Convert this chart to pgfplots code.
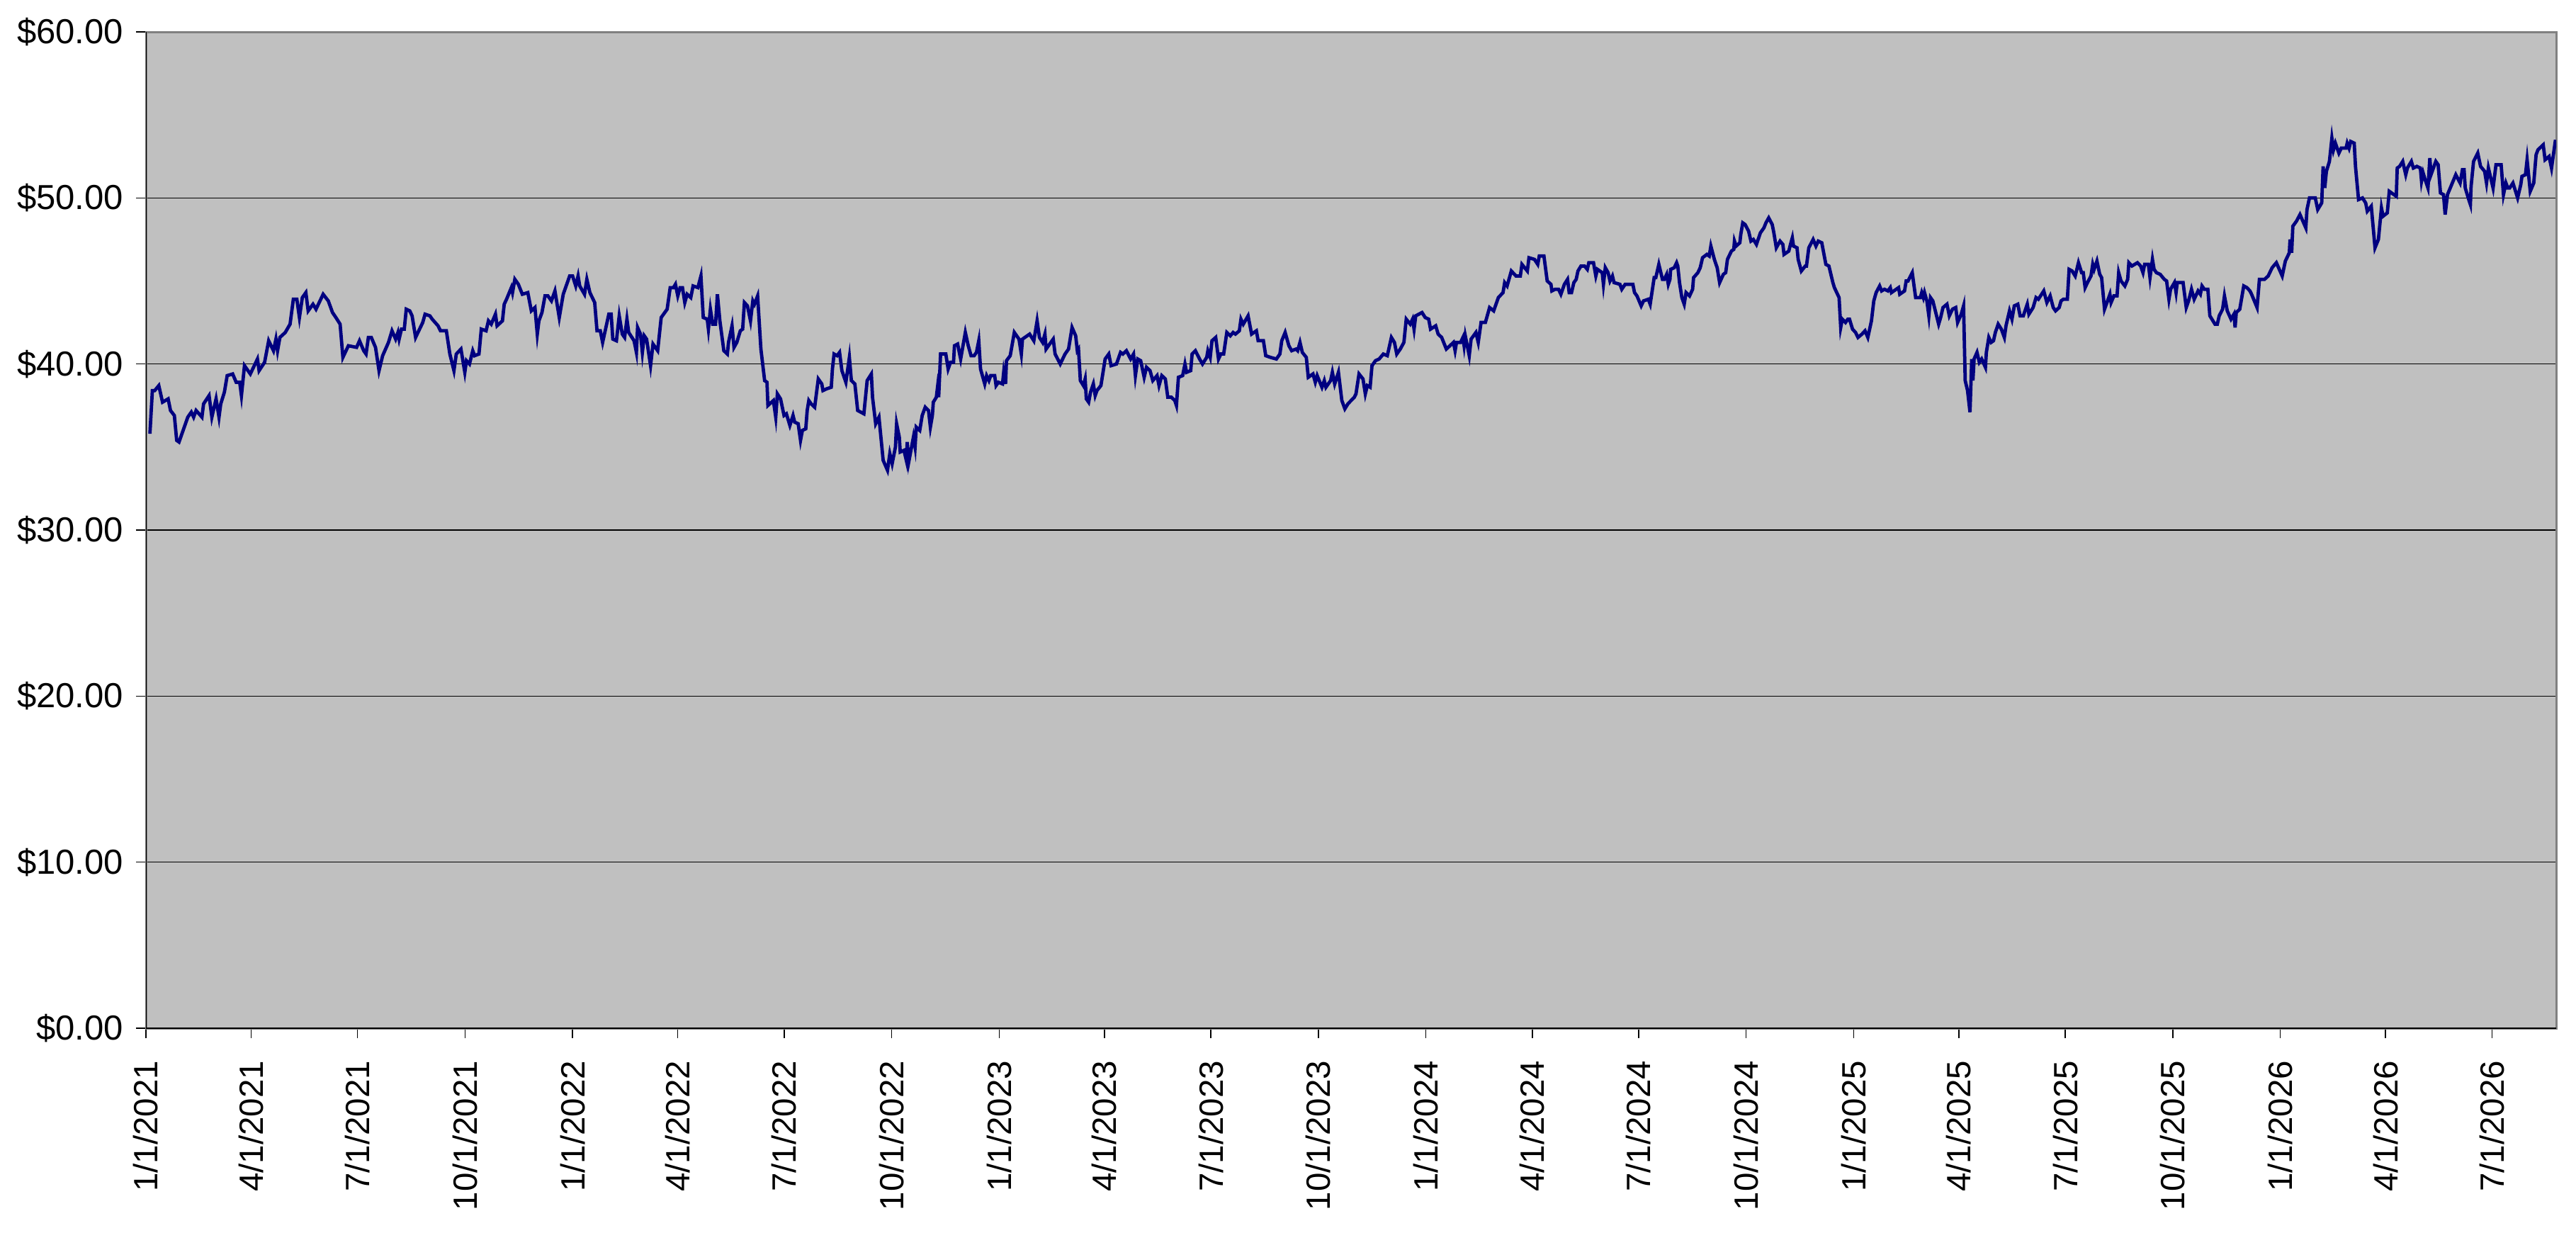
\documentclass[border=0pt]{standalone}
\usepackage{fontspec}
\setmainfont{Liberation Sans}
\usepackage{pgfplots}
\pgfplotsset{compat=1.18}
\usepackage{pgfplotstable}
\definecolor{plotbg}{HTML}{C0C0C0}
\definecolor{framegray}{HTML}{808080}
\definecolor{navyline}{HTML}{000080}
\pgfplotstableread{
day price
3.4 35.8
5.5 38.4
7.5 38.4
11 38.7
14.2 37.7
19 37.9
21 37.2
24.3 36.9
26.3 35.4
28.3 35.3
32.8 36.2
35.8 36.8
38.8 37.1
40.8 36.8
42.9 37.2
47.9 36.8
49.3 37.6
54 38.1
56.4 36.8
60 37.9
62.5 36.8
64 37.6
67.1 38.3
69.5 39.3
74.2 39.4
77.2 38.9
80.2 38.9
81.7 38.1
84.3 39.9
89.3 39.4
95.4 40.3
96.8 39.6
101.5 40.1
105 41.4
109.1 40.8
111.2 41.5
112.6 40.8
114.6 41.6
119.2 41.9
123.3 42.4
126.1 43.9
129.1 43.9
131.3 42.8
133.8 44.0
136.8 44.3
138.8 43.2
142.9 43.6
145.5 43.3
151.6 44.2
156 43.8
159.6 43.1
162.5 42.8
166.1 42.4
168.5 40.4
173.2 41.1
180.2 41.0
182.7 41.4
186.3 40.8
188.3 40.6
190.3 41.6
192.8 41.6
196.4 41.0
199.4 39.6
202.5 40.5
207.5 41.3
210.5 42.0
213.6 41.5
215.6 41.9
216.6 41.5
218.6 42.1
221 42.1
222.7 43.3
225.7 43.2
227.7 42.9
230.7 41.6
236.8 42.5
238.8 43.0
242.9 42.9
244.9 42.7
249.9 42.3
252 42.0
257 42.0
260 40.6
263.5 39.6
265.5 40.6
269.5 40.9
272.8 39.5
274.2 40.2
276.8 40.0
279.6 40.8
281.2 40.5
284.9 40.6
286.9 42.1
291 42.0
293 42.6
295.4 42.4
299 43.0
300.4 42.3
305 42.6
306.5 43.6
308.5 43.9
312.6 44.6
313.6 44.3
315.6 45.1
318.6 44.8
322 44.2
326.7 44.3
329.7 43.2
332.8 43.4
334.8 41.8
336.2 42.6
338.8 43.1
341.4 44.1
343.9 44.1
346.9 43.8
349.9 44.4
353.6 42.8
357 44.2
362.5 45.3
365 45.3
367.7 44.7
369.7 45.3
371.1 44.7
375.2 44.2
377.2 45.1
379.8 44.3
383.9 43.7
385.9 42.0
388.7 42.0
390.7 41.3
396 43.0
398 43.0
399.4 41.5
402.5 41.4
404.9 42.9
407.5 41.8
409.5 41.6
411.5 42.7
413 41.9
417.6 41.4
419.6 40.7
420.6 42.2
423.1 41.8
424.7 40.7
426.3 41.7
428.3 41.5
431.7 39.9
433.8 41.2
437.8 40.8
440.8 42.8
445.9 43.3
448.5 44.6
451.3 44.6
453 44.8
455 44.1
457 44.6
459 44.6
461 43.7
463 44.2
466.1 44.0
468.1 44.7
472.2 44.6
474.8 45.3
476.8 42.8
480.2 42.7
481.2 42.1
482.9 43.3
484.9 42.4
487.3 42.4
488.9 44.2
491 42.6
494.4 40.8
497.4 40.6
498.4 41.3
501.4 42.3
503.1 41.0
505.5 41.3
508.5 42.0
510.5 42.1
512 43.7
514.6 43.5
517.2 42.6
519.2 43.8
520.6 43.6
523.3 44.1
526.1 40.9
529.3 39.0
531.3 38.9
532.1 37.5
536.8 37.8
538.8 36.8
540.2 38.2
542.9 37.9
545.9 36.9
547.9 37.0
550.9 36.3
553.6 36.9
555 36.5
558 36.4
560 35.4
561.6 36.0
564.5 36.1
565.7 37.2
567.1 37.8
569.1 37.6
572.1 37.4
575.2 39.1
578.2 38.8
579.2 38.4
582.2 38.5
586.3 38.6
587.3 39.7
588.7 40.6
591.3 40.5
593.4 40.7
595.4 39.6
598.8 38.9
601.8 40.4
603.5 39.0
606.5 38.8
608.9 37.2
614.2 37.0
617 39.0
620.6 39.4
621.6 38.0
624.3 36.4
627.1 36.8
630.7 34.2
634.4 33.6
636.4 34.6
638.4 34.0
641.2 35.0
642.2 36.4
644.5 35.6
645.3 34.7
648.5 34.8
650.5 34.2
651.3 35.3
652.6 34.1
656.6 35.6
658 35.0
659 36.2
662 36.0
664.1 36.9
666.7 37.4
669.5 37.2
671.1 36.2
672.8 36.9
673.6 37.7
676.2 38.0
677.2 38.6
678.2 38.0
679.8 40.6
681.2 40.6
684.3 40.6
686.3 39.7
688.3 40.1
690.9 40.1
691.7 41.1
694.4 41.2
697 40.3
699 41.1
701 41.9
703.5 41.1
705.9 40.5
708.5 40.5
710.5 40.7
712.5 41.4
714 39.7
717.6 38.8
719.2 39.3
721.2 39.0
722.7 39.3
726.1 39.3
727.3 38.7
729.3 38.9
732.8 38.8
733.8 39.5
735.4 38.8
736.2 40.2
739.4 40.5
742.9 41.9
746.9 41.5
748.9 40.6
749.9 41.5
756 41.8
759.6 41.4
762.4 42.6
764.4 41.6
767.1 41.3
769.1 41.8
770.1 40.9
776.2 41.5
777.8 40.6
782.2 40.0
786.3 40.6
789.3 40.9
792.3 42.2
795.4 41.7
796.8 40.8
797.8 40.9
799.4 39.0
802 38.7
803.5 39.1
804.5 37.9
806.5 37.7
808.1 38.3
810.5 38.8
812.1 38.1
813.6 38.4
817 38.7
820.6 40.3
823.7 40.6
825.7 39.9
830.3 40.0
833.8 40.7
835.8 40.6
838.8 40.8
842.4 40.3
844.9 40.6
846.5 39.3
848.5 40.3
851 40.2
854 39.2
856 39.8
859 39.6
861.4 39.0
865 39.3
866.7 38.7
869.1 39.3
872.1 39.1
874.2 38.0
877.2 38.0
880.2 37.8
881.6 37.5
883.3 39.2
886.9 39.3
888.9 40.0
890.3 39.5
893.8 39.6
895 40.6
897.8 40.8
901.4 40.3
903.9 40.0
907.5 40.4
908.5 40.8
910.5 40.4
912 41.4
915.2 41.6
917.6 40.3
919.6 40.6
922 40.6
924.7 41.9
927.7 41.7
930.1 41.9
932.1 41.8
935.4 42.0
936.8 42.7
938.8 42.4
942.9 42.9
945.9 41.8
950 42.0
951.5 41.4
956 41.4
958 40.5
962 40.4
967.1 40.3
970.1 40.6
971.7 41.4
974.6 41.9
977.8 41.1
980.2 40.8
983.9 40.9
985.3 40.8
987.3 41.3
989.3 40.7
992.7 40.4
994.4 39.2
998.4 39.4
1000.4 38.9
1002 39.3
1006.1 38.6
1008.1 39.0
1009.5 38.6
1013.5 39.0
1015 39.5
1017 38.8
1020.2 39.5
1023.1 37.8
1025.7 37.3
1028.3 37.6
1033.8 38.0
1035.2 38.2
1037.8 39.4
1041.2 39.1
1043.2 38.2
1044.9 38.7
1047.3 38.6
1048.9 39.9
1051.9 40.2
1055 40.3
1058.6 40.6
1062 40.5
1065.5 41.6
1068.1 41.3
1070.1 40.6
1073.1 40.9
1076.2 41.3
1078.2 42.7
1081.6 42.4
1083.6 42.7
1084.9 42.1
1086.3 42.9
1091.7 43.1
1094.4 42.8
1097.4 42.7
1099 42.1
1103.4 42.3
1105.5 41.8
1108.5 41.6
1112.5 40.9
1115.6 41.1
1118.6 41.3
1120 40.8
1121.2 41.3
1124.7 41.3
1126.7 41.6
1127.7 41.1
1128.7 41.7
1132.1 40.5
1133.7 41.5
1137.8 41.9
1139.8 41.3
1142.2 42.5
1145.9 42.5
1149.5 43.4
1153 43.2
1157 44.0
1161 44.3
1162.4 44.9
1164.5 44.7
1168.1 45.6
1172.1 45.3
1175.8 45.3
1177.2 46.0
1181.8 45.6
1183.2 46.4
1187.9 46.3
1190.7 46.0
1192 46.5
1196 46.5
1198.8 45.0
1202 44.8
1202.8 44.4
1205.5 44.5
1208.5 44.5
1210.5 44.2
1213.5 44.8
1216.2 45.1
1217.6 44.3
1219.6 44.3
1221.6 44.9
1223.6 45.1
1225.1 45.6
1227.7 45.9
1230.7 45.9
1233.1 45.7
1234.4 46.1
1238.4 46.1
1240.4 45.3
1241.8 45.7
1245.9 45.5
1246.9 44.8
1248.5 45.8
1250.9 45.5
1252.5 45.0
1254.6 45.3
1256 44.9
1261 44.8
1262.6 44.5
1265.5 44.8
1272.1 44.8
1273.5 44.3
1275.6 44.1
1279.2 43.5
1281.2 43.8
1285.3 43.9
1286.9 43.6
1290.3 45.2
1291.7 45.2
1294.3 46.0
1297.4 45.1
1299 45.1
1301 45.4
1302.4 44.8
1303.8 45.1
1304.4 45.7
1307.5 45.8
1309.5 46.1
1310.5 45.9
1312 44.9
1314 44.0
1316 43.6
1317.6 44.3
1320.6 44.1
1323.2 44.5
1324 45.2
1327.7 45.5
1329.7 45.8
1331.7 46.4
1335.4 46.6
1337.4 46.5
1338.8 47.1
1341.8 46.3
1344.2 45.8
1346.3 44.9
1349.5 45.4
1351.5 45.5
1353 46.3
1356.4 46.8
1358.4 46.9
1359 47.4
1360.4 47.1
1363.6 47.3
1364.4 47.8
1366.1 48.5
1368.1 48.4
1371.1 48.0
1373.1 47.4
1375.2 47.5
1377.8 47.2
1381.2 47.9
1384.2 48.2
1385.9 48.5
1388.3 48.8
1391.3 48.4
1392.7 47.9
1394.8 47.0
1398 47.4
1400.4 47.2
1401.4 46.6
1405.5 46.8
1406.9 47.2
1408.5 47.6
1409.5 47.1
1412.5 47.0
1413.5 46.3
1416.2 45.6
1419.6 45.9
1420.6 45.9
1422.6 47.0
1426.3 47.5
1428.7 47.1
1430.7 47.4
1433.7 47.3
1437.2 46.0
1439.8 45.9
1443.2 44.9
1444.5 44.6
1448.5 44.0
1449.9 42.2
1451.3 42.7
1454 42.5
1456 42.7
1457.4 42.7
1460 42.1
1462.6 41.9
1464.7 41.6
1468.1 41.8
1470.7 42.0
1473.1 41.6
1476.2 42.6
1478.2 43.8
1480.2 44.3
1483.2 44.7
1484.9 44.4
1487.3 44.5
1490.3 44.4
1492.3 44.6
1493.3 44.3
1499.4 44.6
1500.4 44.2
1504.5 44.4
1505.9 45.0
1507.5 45.0
1511.1 45.5
1514 44.0
1518 44.0
1519.2 44.3
1520.6 44.0
1521.6 44.3
1523.6 43.8
1525.3 42.9
1526.7 44.0
1528.7 43.8
1533.7 42.4
1535.4 42.8
1537.4 43.4
1540.8 43.6
1542.8 42.9
1545.5 43.3
1548.3 43.4
1549.9 42.5
1553 43.0
1555 43.5
1556.4 39.0
1558.4 38.4
1560.5 37.1
1562 40.3
1563 39.0
1564 40.3
1566.5 40.7
1568.5 40.1
1570.5 40.3
1573.7 39.8
1574.5 40.7
1576.6 41.6
1578.6 41.3
1580.6 41.4
1582.2 41.9
1584.6 42.4
1587.3 42.1
1589.9 41.6
1591.3 42.3
1594.3 43.2
1596.4 42.7
1598.4 43.5
1601.4 43.6
1603.4 42.9
1606.1 42.9
1609.5 43.6
1610.9 43.0
1614.5 43.4
1617 44.0
1619 43.9
1623.6 44.4
1626.3 43.7
1629.1 44.1
1631.7 43.4
1633.7 43.2
1636.8 43.4
1638.4 43.8
1640.4 43.9
1643.8 43.9
1645.3 45.7
1647.9 45.6
1650.5 45.3
1653.3 46.1
1656 45.5
1657.4 45.5
1659 44.6
1661 44.9
1664 45.3
1665.5 46.0
1666.7 45.7
1669.1 46.2
1671.5 45.4
1673.1 45.2
1675.6 43.3
1678.2 43.8
1680.2 44.2
1681.2 43.7
1683.6 44.1
1686.3 44.1
1687.7 45.5
1689.7 45.0
1693 44.7
1695.4 45.1
1696.4 46.1
1699 45.9
1703.8 46.1
1706.5 45.9
1708.5 45.5
1709.9 46.0
1713.1 46.0
1714.5 45.2
1716.6 46.3
1718 45.7
1720 45.5
1723.2 45.4
1726.7 45.1
1728.7 45.0
1730.7 43.9
1732.1 44.5
1735.4 44.9
1736.8 44.3
1737.8 44.9
1742.8 44.9
1745.5 43.4
1747.5 43.8
1750 44.5
1752.3 43.9
1755.6 44.4
1757.6 44.2
1759 44.7
1761 44.5
1764 44.5
1765.7 42.9
1770.1 42.4
1772.1 42.4
1773.7 42.9
1776.6 43.3
1778.2 44.1
1780.6 43.2
1783.8 42.7
1786.3 43.0
1787.3 42.2
1788.3 43.1
1791.3 43.3
1794.7 44.7
1797.4 44.6
1800 44.4
1801.4 44.2
1806.1 43.4
1808.1 45.1
1812.5 45.1
1815.6 45.3
1819 45.8
1822.6 46.1
1827.6 45.3
1830.3 46.2
1833.7 46.7
1834.3 47.5
1835.7 46.7
1836.7 48.3
1839.8 48.6
1842.8 49.0
1847.8 48.2
1848.8 49.3
1850.9 50.0
1855.9 50.0
1858 49.3
1861.4 49.7
1862.6 51.9
1864 50.6
1865.4 51.6
1868 52.2
1870.1 53.6
1871.5 52.9
1873.1 53.3
1876.1 52.7
1878.1 53.0
1882.2 53.0
1883.2 53.3
1884.8 53.0
1886.2 53.4
1889.2 53.3
1890.3 51.9
1892.9 49.9
1896.3 50.0
1899 49.7
1900.4 49.2
1903.8 49.5
1907 47.0
1909.9 47.5
1912.5 49.4
1913.9 48.9
1917.5 49.1
1919.2 50.4
1925.2 50.1
1926 51.8
1928 51.9
1930.7 52.2
1933.3 51.4
1934.7 51.8
1938.1 52.2
1939.8 51.8
1942.8 51.9
1945.8 51.8
1946.8 51.0
1948.2 51.5
1949.9 51.1
1952.3 50.6
1953.9 52.4
1954.9 51.4
1959 52.2
1961 52.0
1963 50.3
1965.6 50.2
1967 49.0
1969 50.2
1976.1 51.4
1979.8 50.9
1981.8 51.7
1983.2 51.7
1984.2 50.6
1987.2 49.9
1988.6 49.6
1989.2 50.7
1991.3 52.2
1994.9 52.7
1997.3 51.9
2000.8 51.6
2002.4 50.9
2004 51.8
2008 50.6
2010.5 52.0
2014.9 52.0
2016.9 50.2
2019 50.9
2020.6 50.6
2022.2 50.6
2025 50.9
2029 50.0
2031.7 50.8
2032.7 51.3
2035.7 51.4
2037.1 52.3
2039.8 50.4
2042.8 50.9
2044.8 52.6
2046.4 52.9
2050.9 53.2
2052.5 52.3
2055.9 52.5
2058 51.8
2059.4 52.5
2061.4 53.5
}\pricedata
\begin{document}
\begin{tikzpicture}
\path[use as bounding box] (-41.2pt,-57.6pt) rectangle (686pt,290.2pt);
\begin{axis}[
  at={(0pt,0pt)}, anchor=south west,
  scale only axis, width=680.4pt, height=281.2pt,
  xmin=0, xmax=2062, ymin=0, ymax=60,
  axis background/.style={fill=plotbg},
  axis line style={draw=framegray, line width=0.6pt},
  xtick pos=bottom, ytick pos=left,
  xtick={0,90,181,273,365,455,546,638,730,820,911,1003,1095,1186,1277,1369,1461,1551,1642,1734,1826,1916,2007},
  xticklabels={1/1/2021,4/1/2021,7/1/2021,10/1/2021,1/1/2022,4/1/2022,7/1/2022,10/1/2022,1/1/2023,4/1/2023,7/1/2023,10/1/2023,1/1/2024,4/1/2024,7/1/2024,10/1/2024,1/1/2025,4/1/2025,7/1/2025,10/1/2025,1/1/2026,4/1/2026,7/1/2026},
  ytick={0,10,20,30,40,50,60},
  yticklabels={\$0.00,\$10.00,\$20.00,\$30.00,\$40.00,\$50.00,\$60.00},
  tick align=outside, major tick length=2.8pt,
  tick style={black, line width=0.3pt},
  ymajorgrids, grid style={black, line width=0.3pt},
  x tick label style={rotate=90, anchor=east, inner ysep=0pt, inner xsep=6.2pt, font=\fontsize{9.5}{11}\selectfont},
  y tick label style={anchor=east, inner ysep=0pt, inner xsep=3.4pt, font=\fontsize{9.8}{11}\selectfont},
]
\addplot[navyline, line width=0.95pt] table[x=day,y=price]{\pricedata};
\draw[black, line width=0.4pt] (rel axis cs:0,1) -- (rel axis cs:0,0) -- (rel axis cs:1,0);
\end{axis}
\end{tikzpicture}
\end{document}
